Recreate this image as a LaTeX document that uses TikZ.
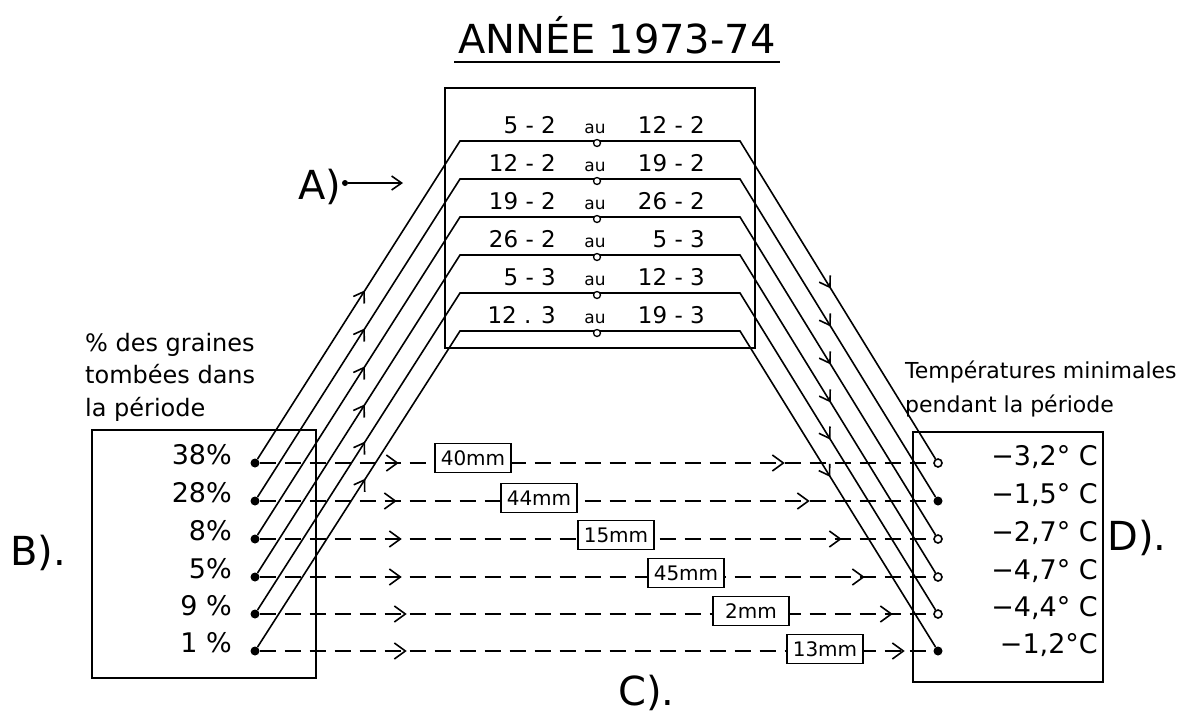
\documentclass[tikz,border=0pt]{standalone}
\usepackage{fontspec}
\setmainfont{DejaVu Sans}
\usepackage{tikz}
\usetikzlibrary{arrows.meta, positioning, decorations.markings}

\tikzset{
  pen/.style={line width=1.6pt},
  frame/.style={draw, pen, inner sep=0pt},
  seed/.style={circle, fill, inner sep=0pt, minimum size=9pt},
  hollow/.style={circle, draw, pen, fill=white, inner sep=0pt, minimum size=8pt},
  knot/.style={circle, draw, line width=1.3pt, fill=white, inner sep=0pt, minimum size=7pt},
  big/.style={font=\fontsize{27}{30}\selectfont, inner sep=0pt, anchor=base east},
  date/.style={font=\fontsize{23}{26}\selectfont, inner sep=0pt, anchor=base east},
  au/.style={font=\fontsize{17}{20}\selectfont, inner sep=0pt, anchor=base},
  mm/.style={draw, pen, fill=white, font=\fontsize{20}{22}\selectfont, minimum width=76pt, minimum height=29pt, inner sep=1pt},
  tag/.style={font=\fontsize{40}{44}\selectfont, inner sep=0pt, anchor=base west},
  note/.style={align=left, inner sep=0pt, anchor=north west},
  barb/.style={-{Straight Barb[length=10pt, width=14pt]}},
  flow/.style={postaction={decorate}, decoration={markings,
      mark=at position 200pt with {\arrow{Straight Barb[length=10pt, width=13pt]}},
      mark=at position -200pt with {\arrow{Straight Barb[length=10pt, width=13pt]}}}},
  dashflow/.style 2 args={dash pattern=on 16pt off 9pt, postaction={decorate}, decoration={markings,
      mark=at position #1 with {\arrow{Straight Barb[length=11pt, width=16pt]}},
      mark=at position #2 with {\arrow{Straight Barb[length=11pt, width=16pt]}}}},
}

\begin{document}
\begin{tikzpicture}[x=1pt, y=-1pt]
    \useasboundingbox (0,0) rectangle (1184,713);

    % title
    \node[font=\fontsize{40}{44}\selectfont, minimum width=325pt, inner sep=0pt, anchor=base] (title) at (617,53) {ANNÉE 1973-74};
    \draw[pen] ([yshift=-9pt]title.base west) -- ([yshift=-9pt]title.base east);

    % the three boxes
    \node[frame, minimum width=310pt, minimum height=260pt] (boxA) at (600,218) {};
    \node[frame, minimum width=224pt, minimum height=248pt] (boxB) at (204,554) {};
    \node[frame, minimum width=190pt, minimum height=250pt] (boxD) at (1008,557) {};

    % periods
    \coordinate (aw1) at (460,141); \coordinate (ae1) at (740,141);
    \coordinate (aw2) at (460,179); \coordinate (ae2) at (740,179);
    \coordinate (aw3) at (460,217); \coordinate (ae3) at (740,217);
    \coordinate (aw4) at (460,255); \coordinate (ae4) at (740,255);
    \coordinate (aw5) at (460,293); \coordinate (ae5) at (740,293);
    \coordinate (aw6) at (460,331); \coordinate (ae6) at (740,331);

    \node[date] (from1) at (556,133) {5 - 2};  \node[au] (au1) at (595,133) {au}; \node[date] (to1) at (705,133) {12 - 2};
    \node[date] (from2) at (556,171) {12 - 2}; \node[au] (au2) at (595,171) {au}; \node[date] (to2) at (705,171) {19 - 2};
    \node[date] (from3) at (556,209) {19 - 2}; \node[au] (au3) at (595,209) {au}; \node[date] (to3) at (705,209) {26 - 2};
    \node[date] (from4) at (556,247) {26 - 2}; \node[au] (au4) at (595,247) {au}; \node[date] (to4) at (705,247) {5 - 3};
    \node[date] (from5) at (556,285) {5 - 3};  \node[au] (au5) at (595,285) {au}; \node[date] (to5) at (705,285) {12 - 3};
    \node[date] (from6) at (556,323) {12 . 3}; \node[au] (au6) at (595,323) {au}; \node[date] (to6) at (705,323) {19 - 3};

    % seeds fallen (B)
    \node[note, font=\fontsize{24}{32.5}\selectfont] (seedtxt) at (85,333) {\% des graines\\tombées dans\\la période};
    \node[seed] (l1) at (255,463) {}; \node[big] (p1) at (232,464) {38\%};
    \node[seed] (l2) at (255,501) {}; \node[big] (p2) at (232,502) {28\%};
    \node[seed] (l3) at (255,539) {}; \node[big] (p3) at (232,540) {8\%};
    \node[seed] (l4) at (255,577) {}; \node[big] (p4) at (232,578) {5\%};
    \node[seed] (l5) at (255,614) {}; \node[big] (p5) at (232,615) {9 \%};
    \node[seed] (l6) at (255,651) {}; \node[big] (p6) at (232,652) {1 \%};

    % minimum temperatures (D)
    \node[note, font=\fontsize{22}{34}\selectfont] (temptxt) at (905,361) {Températures minimales\\pendant la période};
    \node[hollow] (r1) at (938,463) {}; \node[big] (m1) at (1098,465) {−3,2° C};
    \node[seed]   (r2) at (938,501) {}; \node[big] (m2) at (1098,503) {−1,5° C};
    \node[hollow] (r3) at (938,539) {}; \node[big] (m3) at (1098,541) {−2,7° C};
    \node[hollow] (r4) at (938,577) {}; \node[big] (m4) at (1098,579) {−4,7° C};
    \node[hollow] (r5) at (938,614) {}; \node[big] (m5) at (1098,616) {−4,4° C};
    \node[seed]   (r6) at (938,651) {}; \node[big] (m6) at (1098,653) {−1,2°C};

    % links through the periods
    \draw[pen, flow] (l1) -- (aw1) -- (ae1) -- (r1);
    \draw[pen, flow] (l2) -- (aw2) -- (ae2) -- (r2);
    \draw[pen, flow] (l3) -- (aw3) -- (ae3) -- (r3);
    \draw[pen, flow] (l4) -- (aw4) -- (ae4) -- (r4);
    \draw[pen, flow] (l5) -- (aw5) -- (ae5) -- (r5);
    \draw[pen, flow] (l6) -- (aw6) -- (ae6) -- (r6);
    \node[knot] (k1) at (597,143) {};
    \node[knot] (k2) at (597,181) {};
    \node[knot] (k3) at (597,219) {};
    \node[knot] (k4) at (597,257) {};
    \node[knot] (k5) at (597,295) {};
    \node[knot] (k6) at (597,333) {};

    % rainfall (C)
    \draw[pen, dashflow={139pt}{525pt}] (l1) -- (r1);
    \draw[pen, dashflow={137pt}{550pt}] (l2) -- (r2);
    \draw[pen, dashflow={142pt}{582pt}] (l3) -- (r3);
    \draw[pen, dashflow={142pt}{605pt}] (l4) -- (r4);
    \draw[pen, dashflow={147pt}{633pt}] (l5) -- (r5);
    \draw[pen, dashflow={147pt}{645pt}] (l6) -- (r6);
    \node[mm] (rain1) at (473,458) {40mm};
    \node[mm] (rain2) at (539,498) {44mm};
    \node[mm] (rain3) at (616,535) {15mm};
    \node[mm] (rain4) at (686,573) {45mm};
    \node[mm] (rain5) at (751,611) {2mm};
    \node[mm] (rain6) at (825,649) {13mm};

    % letters
    \node[tag] (tagA) at (298,199) {A)};
    \node[circle, fill, inner sep=0pt, minimum size=6pt] (adot) at (345,183) {};
    \coordinate (atip) at (403,183);
    \draw[pen, barb] (adot) -- (atip);
    \node[tag] (tagB) at (10,565) {B).};
    \node[tag] (tagC) at (618,705) {C).};
    \node[tag] (tagD) at (1107,550) {D).};
\end{tikzpicture}
\end{document}
